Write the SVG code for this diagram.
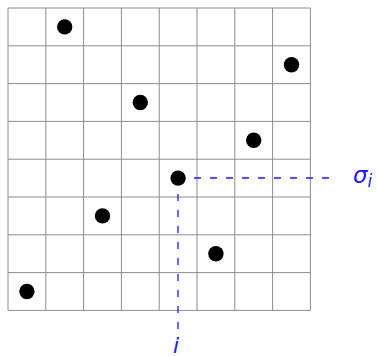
<svg xmlns="http://www.w3.org/2000/svg" width="378" height="356" viewBox="0 0 378 356">
<style>
.g{stroke:#8c8c8c;stroke-width:1;fill:none}
.d{fill:#000}
.c{stroke:#1a1aff;stroke-width:1.3;stroke-dasharray:7 9;fill:none}
.t{font-family:"DejaVu Sans",sans-serif;font-style:italic;fill:#1a1aff}
</style>
<rect width="378" height="356" fill="#fff"/>
<g id="grid" class="g">
<path d="M8 8H310.4M8 45.8H310.4M8 83.6H310.4M8 121.4H310.4M8 159.2H310.4M8 197H310.4M8 234.8H310.4M8 272.6H310.4M8 310.4H310.4"/>
<path d="M8 8V310.4M45.8 8V310.4M83.6 8V310.4M121.4 8V310.4M159.2 8V310.4M197 8V310.4M234.8 8V310.4M272.6 8V310.4M310.4 8V310.4"/>
</g>
<g id="connectors">
<path class="c" d="M194 178H330"/>
<path class="c" d="M178 194V330"/>
</g>
<g id="dots" class="d">
<circle id="p1" cx="64.7" cy="26.9" r="7.7"/>
<circle id="p2" cx="291.5" cy="64.7" r="7.7"/>
<circle id="p3" cx="140.3" cy="102.5" r="7.7"/>
<circle id="p4" cx="253.7" cy="140.3" r="7.7"/>
<circle id="p5" cx="178.1" cy="178.1" r="7.7"/>
<circle id="p6" cx="102.5" cy="215.9" r="7.7"/>
<circle id="p7" cx="215.9" cy="253.7" r="7.7"/>
<circle id="p8" cx="26.9" cy="291.5" r="7.7"/>
</g>
<g id="labels">
<text class="t" x="353" y="183" font-size="23">σ<tspan font-size="17" dy="4">i</tspan></text>
<text class="t" x="173" y="353" font-size="22">i</text>
</g>
</svg>
